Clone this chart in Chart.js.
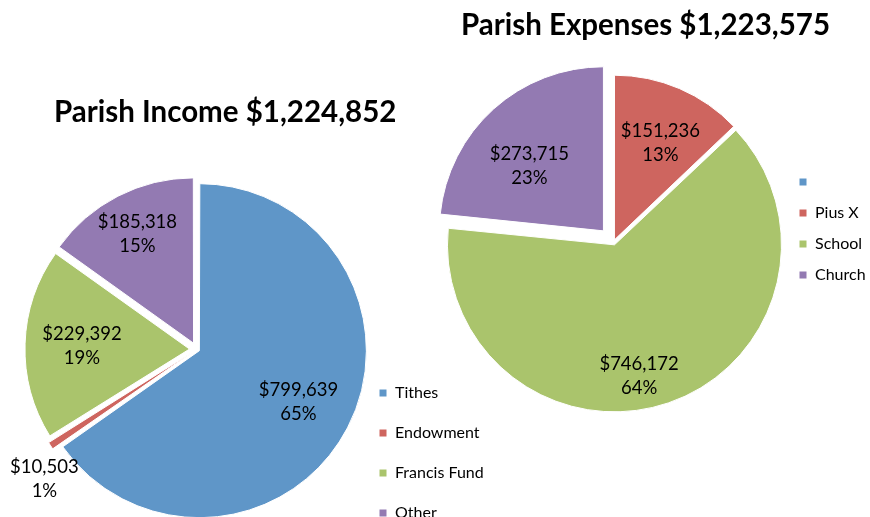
<!DOCTYPE html>
<html lang="en">
<head>
<meta charset="UTF-8">
<title>Parish Income and Expenses</title>
<script src="https://cdn.jsdelivr.net/npm/chart.js@4.4.1/dist/chart.umd.min.js"></script>
<style>
    html, body { margin: 0; padding: 0; background: #fff; width: 870px; height: 517px; overflow: hidden; }
    #income { position: absolute; left: 0; top: 0; }
    #expenses { position: absolute; left: 430px; top: 0; }
</style>
</head>
<body>
<canvas id="income" width="490" height="545"></canvas>
<canvas id="expenses" width="440" height="454"></canvas>

<script>
// data
const incomeLabels = ['Tithes', 'Endowment', 'Francis Fund', 'Other']
const incomeValues = [799639, 10503, 229392, 185318]
const incomeTitle = 'Parish Income $1,224,852'

const expenseLabels = ['', 'Pius X', 'School', 'Church']
const expenseValues = [0, 151236, 746172, 273715]
const expenseTitle = 'Parish Expenses $1,223,575'

const sliceColors = ['#5f96c8', '#ce655f', '#aac46c', '#937ab2']

Chart.defaults.font.family = 'Lato'
Chart.defaults.color = '#000'

// value + percent labels on each slice
const sliceLabels = {
    id: 'sliceLabels',
    afterDatasetsDraw(chart, args, opts) {
        const ctx = chart.ctx
        const ds = chart.data.datasets[0]
        const meta = chart.getDatasetMeta(0)
        const total = ds.data.reduce((a, b) => a + b, 0)
        ctx.save()
        ctx.font = opts.font
        ctx.fillStyle = '#000'
        ctx.textAlign = 'center'
        ctx.textBaseline = 'middle'
        meta.data.forEach((arc, i) => {
            const v = ds.data[i]
            if (!v) return
            const p = arc.getProps(['x', 'y', 'startAngle', 'endAngle', 'outerRadius'], true)
            const [f, shift] = opts.place[i]
            const a = (p.startAngle + p.endAngle) / 2 + shift * Math.PI / 180
            const cx = p.x + Math.cos(a) * p.outerRadius * f
            const cy = p.y + Math.sin(a) * p.outerRadius * f
            ctx.fillText('$' + v.toLocaleString('en-US'), cx, cy - 12)
            ctx.fillText(Math.round(v / total * 100) + '%', cx, cy + 12)
        })
        ctx.restore()
    }
}

// the legend is kept narrow for the layout, let its text run out to the canvas edge
const legendOverflow = {
    id: 'legendOverflow',
    afterLayout(chart) {
        const lg = chart.legend
        lg.right = chart.width
        lg.width = lg.right - lg.left
    }
}

function pieChart(id, labels, values, title, o) {
    return new Chart(document.getElementById(id), {
        type: 'pie',
        data: {
            labels: labels,
            datasets: [{
                data: values,
                backgroundColor: sliceColors,
                borderColor: '#ffffff',
                borderWidth: 1,
                offset: o.offsets
            }]
        },
        plugins: [sliceLabels, legendOverflow],
        options: {
            responsive: false,
            animation: false,
            events: [],
            radius: 164,
            layout: { padding: o.padding },
            plugins: {
                title: {
                    display: true,
                    text: title,
                    color: '#000',
                    font: { size: 29.5, weight: 'bold', lineHeight: o.titleLine },
                    padding: o.titlePad
                },
                legend: {
                    position: 'right',
                    align: o.legendAlign,
                    maxWidth: o.legendWidth,
                    labels: {
                        boxWidth: 8,
                        boxHeight: 8,
                        padding: o.legendPad,
                        color: '#000',
                        font: { size: 16 }
                    }
                },
                tooltip: { enabled: false },
                sliceLabels: { font: '18.5px Lato', place: o.place }
            }
        }
    })
}

pieChart('income', incomeLabels, incomeValues, incomeTitle, {
    offsets: [12, 22.7, 28.7, 27.6],
    padding: { left: 38.4, right: 78, top: 0, bottom: 0 },
    titleLine: 1,
    titlePad: { top: 97.25, bottom: 26.85 },
    legendAlign: 'end',
    legendWidth: 57,
    legendPad: 24,
    place: [[0.70, 0], [1.22, -7], [0.70, 0], [0.79, 0]]
})

pieChart('expenses', expenseLabels, expenseValues, expenseTitle, {
    offsets: [0, 9.4, 12, 60],
    padding: { left: 13, right: 22, top: 3, bottom: 0 },
    titleLine: 0.3,
    titlePad: { top: 17.6, bottom: 0.55 },
    legendAlign: 'center',
    legendWidth: 64,
    legendPad: 15,
    place: [[0.7, 0], [0.67, 2], [0.83, 8], [0.69, -6]]
})
</script>
</body>
</html>
